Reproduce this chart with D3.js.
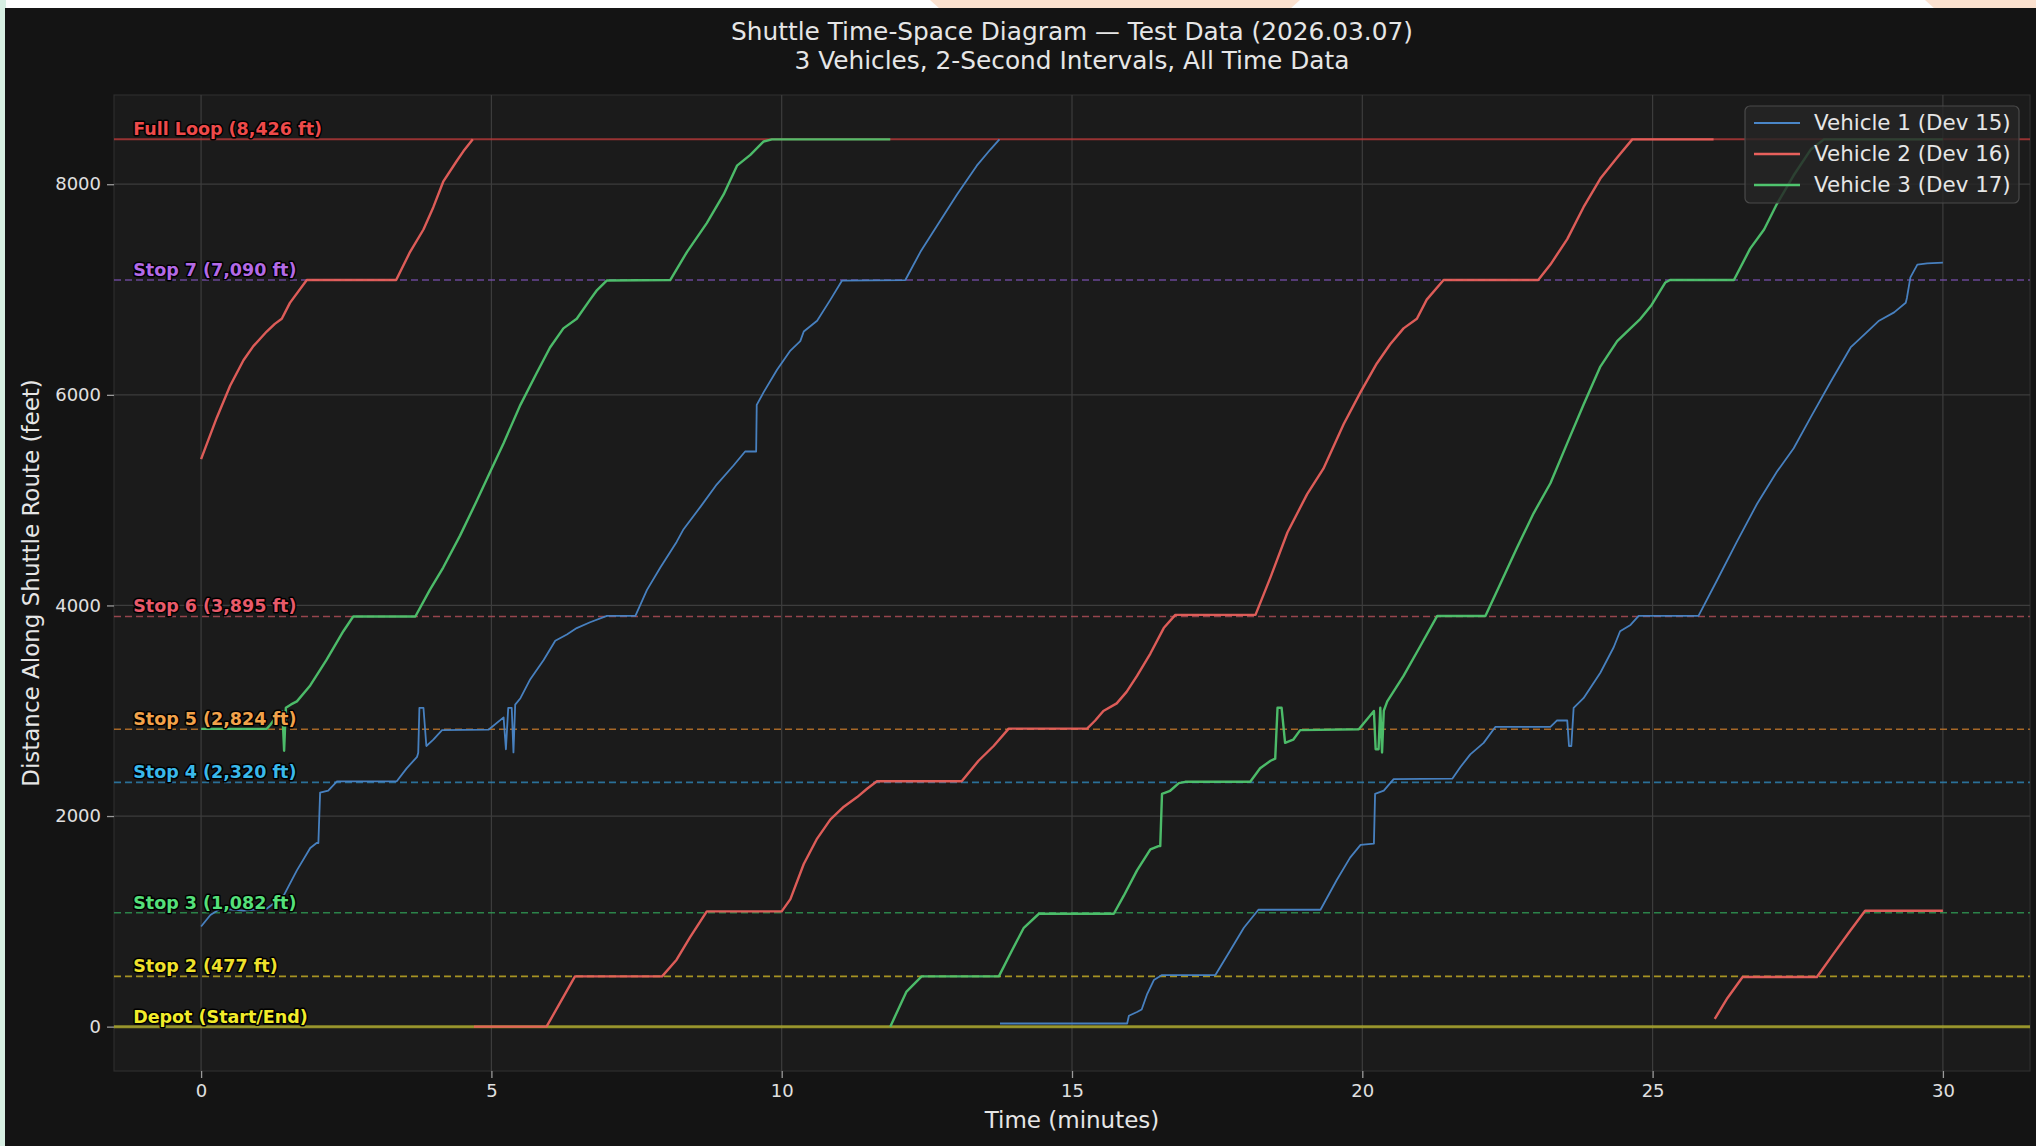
<!DOCTYPE html>
<html><head><meta charset="utf-8">
<script src="https://cdn.jsdelivr.net/npm/d3@7"></script>
<style>html,body{margin:0;padding:0;background:#fdfdfd;overflow:hidden}svg{display:block}</style>
</head><body>
<svg id="chart" width="2036" height="1146"></svg>
<script>
// ---------- DATA ----------
const titleLines = ["Shuttle Time-Space Diagram \u2014 Test Data (2026.03.07)", "3 Vehicles, 2-Second Intervals, All Time Data"];
const xLabel = "Time (minutes)";
const yLabel = "Distance Along Shuttle Route (feet)";
const xTicks = [0, 5, 10, 15, 20, 25, 30];
const yTicks = [0, 2000, 4000, 6000, 8000];

const stopNames = ["Depot (Start/End)", "Stop 2 (477 ft)", "Stop 3 (1,082 ft)", "Stop 4 (2,320 ft)", "Stop 5 (2,824 ft)", "Stop 6 (3,895 ft)", "Stop 7 (7,090 ft)", "Full Loop (8,426 ft)"];
const stopDistances = [0, 477, 1082, 2320, 2824, 3895, 7090, 8426];
const stopLineColors = ["#b9b52c", "#c9b226", "#2f9e55", "#2e86b8", "#c97a2a", "#b5505a", "#7d52b5", "#b83a3a"];
const stopLabelColors = ["#f2ec2a", "#efe12c", "#55e07a", "#3ab8ea", "#f2a24a", "#e85a6a", "#b36ae6", "#ee4a4a"];

const vehicleNames = ["Vehicle 1 (Dev 15)", "Vehicle 2 (Dev 16)", "Vehicle 3 (Dev 17)"];
const vehicleColors = ["#4a86c8", "#e8605c", "#4fc46e"];

// [minutes, feet]; null = break between loops
const vehicle1 = [[0,951],[0.16,1060],[0.33,1120],[0.73,1102],[1.13,1120],[1.42,1241],[1.65,1484],[1.88,1696],[1.99,1744],[2.02,1744],[2.05,2222],[2.19,2241],[2.34,2330],[3.37,2330],[3.54,2453],[3.72,2562],[3.74,2600],[3.76,3028],[3.83,3028],[3.88,2665],[4.00,2725],[4.15,2816],[4.95,2820],[5.21,2937],[5.25,2634],[5.29,3028],[5.35,3028],[5.38,2604],[5.41,3058],[5.50,3119],[5.67,3300],[5.90,3482],[6.10,3664],[6.30,3724],[6.47,3785],[6.70,3840],[6.99,3900],[7.48,3900],[7.68,4148],[7.91,4360],[8.19,4603],[8.31,4724],[8.60,4936],[8.88,5148],[9.17,5329],[9.37,5462],[9.56,5462],[9.57,5905],[9.69,6026],[9.92,6238],[10.15,6420],[10.32,6510],[10.38,6601],[10.61,6704],[10.84,6904],[11.04,7085],[12.13,7090],[12.39,7358],[12.67,7600],[13.02,7903],[13.36,8176],[13.59,8327],[13.75,8426],
  null,
  [13.76,30],[15.95,30],[15.98,103],[16.12,139],[16.20,163],[16.29,303],[16.41,442],[16.55,490],[17.47,490],[17.73,727],[17.96,939],[18.21,1110],[19.28,1110],[19.56,1393],[19.79,1605],[19.97,1726],[20.20,1738],[20.22,2210],[20.37,2241],[20.54,2350],[21.55,2355],[21.69,2465],[21.86,2586],[22.09,2695],[22.29,2846],[23.24,2846],[23.35,2907],[23.53,2907],[23.56,2665],[23.60,2665],[23.64,3028],[23.81,3119],[24.10,3361],[24.33,3603],[24.44,3755],[24.62,3815],[24.76,3900],[25.79,3900],[26.11,4239],[26.45,4603],[26.80,4966],[27.14,5269],[27.43,5493],[27.72,5784],[28.06,6117],[28.41,6450],[28.70,6601],[28.90,6704],[29.16,6783],[29.36,6874],[29.38,6920],[29.44,7116],[29.56,7237],[29.73,7249],[30.0,7255]];

const vehicle2 = [[0,5390],[0.27,5783],[0.50,6086],[0.73,6328],[0.90,6462],[1.13,6601],[1.27,6674],[1.39,6722],[1.53,6873],[1.82,7090],[3.36,7090],[3.60,7358],[3.83,7570],[4.00,7782],[4.17,8024],[4.40,8218],[4.52,8315],[4.68,8426],
  null,
  [4.70,0],[5.95,0],[6.44,477],[7.94,477],[8.19,636],[8.42,848],[8.71,1095],[10.0,1095],[10.15,1211],[10.38,1544],[10.61,1786],[10.84,1968],[11.07,2089],[11.30,2180],[11.47,2259],[11.64,2330],[13.10,2330],[13.39,2525],[13.65,2665],[13.91,2830],[15.26,2830],[15.40,2907],[15.54,2998],[15.77,3070],[15.94,3179],[16.12,3331],[16.35,3543],[16.58,3785],[16.78,3910],[18.16,3910],[18.42,4269],[18.71,4693],[19.05,5057],[19.33,5299],[19.68,5723],[19.97,6026],[20.25,6298],[20.48,6480],[20.71,6631],[20.94,6722],[21.11,6904],[21.40,7090],[23.03,7090],[23.24,7237],[23.53,7479],[23.81,7782],[24.10,8054],[24.39,8254],[24.65,8426],[26.05,8426],
  null,
  [26.07,73],[26.29,272],[26.55,472],[27.83,472],[28.12,696],[28.40,908],[28.66,1100],[30.0,1100]];

const vehicle3 = [[0,2828],[1.13,2828],[1.19,2864],[1.36,2990],[1.40,2990],[1.43,2620],[1.46,3028],[1.55,3060],[1.65,3089],[1.88,3240],[2.16,3482],[2.45,3755],[2.62,3895],[3.69,3895],[3.94,4148],[4.17,4360],[4.46,4663],[4.75,4996],[4.98,5269],[5.21,5541],[5.50,5905],[5.78,6207],[6.01,6450],[6.24,6631],[6.47,6722],[6.70,6904],[6.82,6995],[6.99,7086],[8.08,7090],[8.37,7358],[8.71,7631],[9.00,7903],[9.23,8176],[9.46,8279],[9.69,8406],[9.83,8426],[11.87,8426],
  null,
  [11.87,0],[12.15,333],[12.41,477],[13.74,477],[13.97,727],[14.17,939],[14.43,1072],[15.72,1072],[15.89,1241],[16.12,1484],[16.35,1684],[16.49,1714],[16.52,1714],[16.55,2210],[16.69,2240],[16.84,2313],[16.95,2325],[18.07,2325],[18.24,2453],[18.42,2525],[18.50,2545],[18.54,3028],[18.61,3028],[18.67,2695],[18.81,2725],[18.93,2816],[19.94,2824],[20.20,2998],[20.23,2634],[20.28,2634],[20.31,3028],[20.34,2604],[20.37,3000],[20.43,3089],[20.71,3331],[21.00,3615],[21.29,3900],[22.12,3900],[22.38,4209],[22.66,4542],[22.95,4875],[23.24,5160],[23.53,5541],[23.81,5905],[24.10,6268],[24.39,6510],[24.56,6601],[24.79,6722],[24.97,6843],[25.22,7067],[25.30,7090],[26.40,7090],[26.68,7388],[26.92,7570],[27.14,7812],[27.43,8085],[27.72,8327],[27.95,8426],[30.0,8426]];

const vehicles = [vehicle1, vehicle2, vehicle3];

// ---------- LAYOUT ----------
const W = 2036, H = 1146;
const plot = {left: 114, right: 2030, top: 95, bottom: 1071};
const svg = d3.select("#chart");
const FONT = "DejaVu Sans, Verdana, sans-serif";

// screenshot surroundings
svg.append("rect").attr("x",0).attr("y",0).attr("width",W).attr("height",H).attr("fill","#fdfdfd");
svg.append("polygon").attr("points","930,0 1300,0 1290,9 940,9").attr("fill","#fbe1cf");
svg.append("polygon").attr("points","1925,0 2036,0 2036,9 1935,9").attr("fill","#fbe1cf");
svg.append("rect").attr("x",0).attr("y",0).attr("width",6).attr("height",H).attr("fill","#d7efe3");
svg.append("rect").attr("x",5).attr("y",8).attr("width",W-5).attr("height",H-8).attr("fill","#141414");

// scales (5% margins like the original)
const xExt = [0, 30], yExt = [0, 8426];
const xPad = (xExt[1]-xExt[0])*0.05, yPad = (yExt[1]-yExt[0])*0.05;
const x = d3.scaleLinear().domain([xExt[0]-xPad, xExt[1]+xPad]).range([plot.left, plot.right]);
const y = d3.scaleLinear().domain([yExt[0]-yPad, yExt[1]+yPad]).range([plot.bottom, plot.top]);

// axes background
svg.append("rect").attr("x",plot.left).attr("y",plot.top)
  .attr("width",plot.right-plot.left).attr("height",plot.bottom-plot.top)
  .attr("fill","#1b1b1b").attr("stroke","#2e2e2e").attr("stroke-width",1.2);

svg.append("clipPath").attr("id","clip").append("rect")
  .attr("x",plot.left).attr("y",plot.top).attr("width",plot.right-plot.left).attr("height",plot.bottom-plot.top);

// grid
const grid = svg.append("g").attr("clip-path","url(#clip)");
grid.selectAll(".gx").data(xTicks).join("line")
  .attr("x1",d=>x(d)).attr("x2",d=>x(d)).attr("y1",plot.top).attr("y2",plot.bottom)
  .attr("stroke","#3d3d3d").attr("stroke-width",1.2);
grid.selectAll(".gy").data(yTicks).join("line")
  .attr("y1",d=>y(d)).attr("y2",d=>y(d)).attr("x1",plot.left).attr("x2",plot.right)
  .attr("stroke","#3d3d3d").attr("stroke-width",1.2);

// axes
const xAxis = d3.axisBottom(x).tickValues(xTicks).tickSize(7).tickPadding(6).tickFormat(d3.format("d"));
const yAxis = d3.axisLeft(y).tickValues(yTicks).tickSize(7).tickPadding(6).tickFormat(d3.format("d"));
const gx = svg.append("g").attr("transform",`translate(0,${plot.bottom})`).call(xAxis);
const gy = svg.append("g").attr("transform",`translate(${plot.left},0)`).call(yAxis);
[gx, gy].forEach(g => {
  g.select(".domain").remove();
  g.selectAll(".tick line").attr("stroke","#9a9a9a").attr("stroke-width",1.3);
  g.selectAll(".tick text").attr("fill","#e0e0e0").attr("font-family",FONT).attr("font-size",18);
});

// stop reference lines
const stopsG = svg.append("g").attr("clip-path","url(#clip)");
stopDistances.forEach((d,i) => {
  const solid = (i === 0 || i === stopDistances.length-1);
  stopsG.append("line")
    .attr("x1",plot.left).attr("x2",plot.right).attr("y1",y(d)).attr("y2",y(d))
    .attr("stroke",stopLineColors[i])
    .attr("stroke-width", i === 0 ? 3 : (solid ? 2 : 1.6))
    .attr("stroke-opacity", i === 0 ? 0.75 : 0.8)
    .attr("stroke-dasharray", solid ? null : "7,4");
});

// vehicle lines
const line = d3.line().defined(d => d !== null).x(d => x(d[0])).y(d => y(d[1]));
const vg = svg.append("g").attr("clip-path","url(#clip)");
vehicles.forEach((v,i) => {
  vg.append("path").datum(v).attr("d",line)
    .attr("fill","none").attr("stroke",vehicleColors[i])
    .attr("stroke-width", i === 0 ? 1.8 : 2.4)
    .attr("stroke-linejoin","round").attr("stroke-opacity",0.95);
});

// stop labels
const labelX = plot.left + (plot.right-plot.left)*0.01;
stopDistances.forEach((d,i) => {
  svg.append("text").attr("x",labelX).attr("y",y(d)-4)
    .attr("font-family",FONT).attr("font-weight","bold").attr("font-size",17.5)
    .attr("fill",stopLabelColors[i])
    .attr("stroke","#000").attr("stroke-width",3).attr("stroke-linejoin","round")
    .attr("paint-order","stroke")
    .text(stopNames[i]);
});

// titles
const cx = (plot.left+plot.right)/2;
svg.append("text").attr("x",cx).attr("y",40).attr("text-anchor","middle")
  .attr("font-family",FONT).attr("font-size",24.8).attr("fill","#e6e6e6").text(titleLines[0]);
svg.append("text").attr("x",cx).attr("y",69).attr("text-anchor","middle")
  .attr("font-family",FONT).attr("font-size",24.8).attr("fill","#e6e6e6").text(titleLines[1]);

// axis labels
svg.append("text").attr("x",cx).attr("y",1128).attr("text-anchor","middle")
  .attr("font-family",FONT).attr("font-size",23).attr("fill","#e6e6e6").text(xLabel);
svg.append("text").attr("transform",`translate(39,${(plot.top+plot.bottom)/2}) rotate(-90)`)
  .attr("text-anchor","middle").attr("font-family",FONT).attr("font-size",23)
  .attr("fill","#e6e6e6").text(yLabel);

// legend
const lg = svg.append("g");
lg.append("rect").attr("x",1745).attr("y",106).attr("width",274).attr("height",97).attr("rx",5)
  .attr("fill","#262626").attr("fill-opacity",0.82).attr("stroke","#4a4a4a").attr("stroke-width",1.2);
vehicleNames.forEach((n,i) => {
  const yy = 123 + i*31;
  lg.append("line").attr("x1",1754).attr("x2",1800).attr("y1",yy).attr("y2",yy)
    .attr("stroke",vehicleColors[i]).attr("stroke-width", i===0?1.8:2.4);
  lg.append("text").attr("x",1814).attr("y",yy+7).attr("font-family",FONT).attr("font-size",21.4)
    .attr("fill","#e6e6e6").text(n);
});
</script>
</body></html>
